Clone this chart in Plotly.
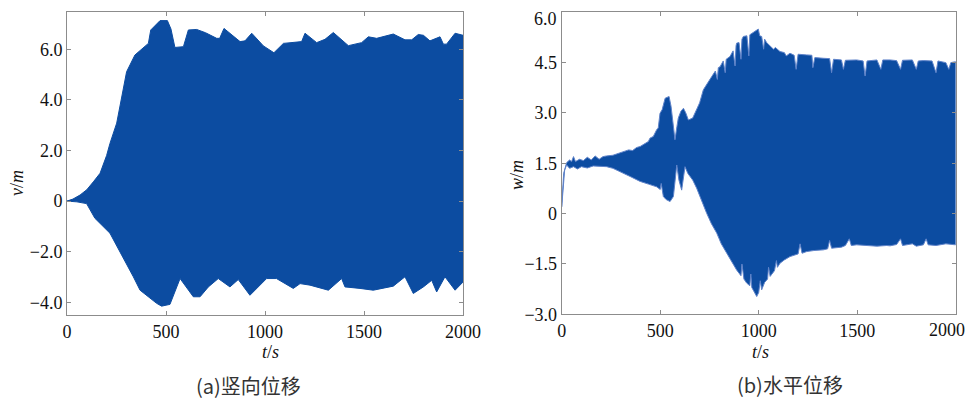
import plotly.graph_objects as go

# ---- (a) vertical displacement envelope ----
a_up_t = [0, 30, 66, 100, 133, 167, 200, 217, 251, 301, 343, 411, 423, 470, 507, 525, 545, 588, 613, 655,
          700, 756, 771, 793, 874, 899, 933, 992, 1045, 1093, 1185, 1202, 1261, 1303, 1345, 1421, 1488,
          1522, 1564, 1648, 1707, 1741, 1774, 1800, 1833, 1867, 1884, 1901, 1917, 1960, 2000]
a_up_v = [0.0, 0.08, 0.24, 0.45, 0.76, 1.1, 1.8, 2.28, 3.08, 5.11, 5.77, 6.23, 6.76, 7.13, 7.13, 6.8, 6.07,
          6.1, 6.76, 6.78, 6.65, 6.43, 6.43, 6.82, 6.3, 6.33, 6.63, 6.13, 5.86, 6.23, 6.3, 6.63, 6.26,
          6.39, 6.66, 6.14, 6.26, 6.49, 6.43, 6.6, 6.37, 6.37, 6.58, 6.55, 6.33, 6.43, 6.49, 6.2, 6.2,
          6.63, 6.55]
a_lo_t = [0, 50, 99, 141, 217, 335, 369, 453, 478, 520, 571, 638, 672, 714, 764, 823, 865, 924, 1008,
          1058, 1143, 1177, 1227, 1320, 1387, 1404, 1480, 1547, 1648, 1707, 1749, 1800, 1842, 1867, 1909,
          1960, 2000]
a_lo_v = [0.0, -0.03, -0.1, -0.68, -1.27, -2.99, -3.52, -4.04, -4.15, -4.08, -3.06, -3.78, -3.78, -3.39,
          -3.06, -3.39, -3.1, -3.72, -3.06, -3.06, -3.45, -3.26, -3.32, -3.52, -3.06, -3.39, -3.45, -3.52,
          -3.36, -2.99, -3.65, -3.39, -3.13, -3.59, -2.99, -3.52, -3.2]

# ---- (b) horizontal displacement envelope ----
b_up_t = [0, 10, 25, 40, 50, 60, 70, 90, 110, 130, 150, 170, 190, 210, 228, 260, 290, 313, 340, 360, 380,
          398, 420, 440, 448, 465, 482, 490, 499, 510, 525, 545, 555, 568, 575, 585, 592, 605, 618, 630,
          643, 665, 685, 700, 719, 740, 761, 780, 790, 795, 804, 820, 830, 835, 854, 870, 880, 885, 888,
          900, 910, 915, 922, 940, 950, 955, 975, 990, 998, 1005, 1015, 1025, 1030, 1040, 1058, 1075,
          1085, 1108, 1130, 1140, 1159, 1180, 1190, 1200, 1244, 1270, 1275, 1285, 1328, 1360, 1370,
          1380, 1420, 1430, 1440, 1497, 1530, 1540, 1550, 1600, 1620, 1630, 1667, 1700, 1720, 1730,
          1780, 1800, 1810, 1836, 1880, 1900, 1910, 1950, 1965, 1975, 2000]
b_up_w = [0.2, 1.2, 1.52, 1.6, 1.55, 1.7, 1.55, 1.62, 1.58, 1.68, 1.6, 1.72, 1.62, 1.7, 1.72, 1.74, 1.8,
          1.85, 1.9, 1.88, 1.97, 2.0, 2.08, 2.15, 2.25, 2.3, 2.5, 2.55, 2.99, 3.1, 3.44, 3.49, 3.2, 2.5,
          2.2, 2.6, 2.85, 3.05, 3.14, 3.0, 2.79, 2.85, 3.09, 3.3, 3.69, 3.9, 4.08, 4.25, 4.0, 4.35, 4.38,
          4.55, 4.2, 4.6, 4.68, 4.85, 4.4, 5.0, 5.08, 5.1, 4.6, 5.2, 5.28, 5.3, 4.7, 5.33, 5.4, 5.45, 5.5,
          5.3, 5.28, 4.9, 5.2, 5.1, 4.98, 4.9, 4.95, 4.83, 4.8, 4.7, 4.78, 4.72, 4.3, 4.75, 4.73, 4.72,
          4.35, 4.65, 4.63, 4.62, 4.2, 4.6, 4.58, 4.3, 4.57, 4.58, 4.55, 4.1, 4.55, 4.58, 4.3, 4.58, 4.58,
          4.56, 4.3, 4.57, 4.58, 4.3, 4.55, 4.56, 4.55, 4.2, 4.55, 4.5, 4.3, 4.5, 4.53]
b_lo_t = [0, 15, 25, 40, 60, 80, 100, 130, 160, 200, 228, 260, 290, 313, 350, 398, 440, 482, 500, 505, 516,
          530, 550, 567, 576, 584, 595, 609, 620, 626, 640, 651, 665, 685, 710, 736, 760, 787, 810, 838,
          860, 888, 910, 915, 925, 939, 955, 960, 965, 973, 990, 1000, 1008, 1015, 1030, 1045, 1050,
          1058, 1080, 1090, 1095, 1108, 1130, 1159, 1200, 1210, 1220, 1244, 1280, 1328, 1350, 1360,
          1370, 1420, 1440, 1460, 1470, 1497, 1550, 1600, 1650, 1667, 1700, 1720, 1730, 1780, 1800,
          1836, 1850, 1860, 1900, 1950, 2000]
b_lo_w = [0.2, 1.3, 1.45, 1.35, 1.4, 1.33, 1.4, 1.36, 1.42, 1.4, 1.4, 1.35, 1.28, 1.2, 1.1, 0.96, 0.88,
          0.8, 0.72, 0.9, 0.51, 0.42, 0.36, 0.51, 1.0, 1.45, 1.0, 0.7, 1.1, 1.4, 1.2, 1.1, 1.0, 0.76, 0.4,
          0.01, -0.3, -0.58, -0.9, -1.18, -1.4, -1.68, -1.85, -1.5, -1.95, -2.07, -2.15, -1.8, -2.2, -2.27,
          -2.47, -2.35, -2.0, -2.27, -2.05, -1.95, -1.6, -1.87, -1.7, -1.4, -1.6, -1.48, -1.38, -1.28,
          -1.2, -0.9, -1.18, -1.13, -1.1, -1.08, -1.05, -0.8, -1.03, -1.0, -0.95, -0.75, -0.95, -0.93,
          -0.95, -0.97, -0.95, -0.96, -0.92, -0.75, -0.95, -0.9, -0.97, -0.93, -0.75, -0.93, -0.95, -0.9,
          -0.93]

x_ticks = [0, 500, 1000, 1500, 2000]
x_labels = ["0", "500", "1000", "1500", "2000"]
a_yticks = [-4, -2, 0, 2, 4, 6]
a_ylabels = ["\u22124.0", "\u22122.0", "0", "2.0", "4.0", "6.0"]
b_yticks = [-3, -1.5, 0, 1.5, 3, 4.5, 6]
b_ylabels = ["\u22123.0", "\u22121.5", "0", "1.5", "3.0", "4.5", "6.0"]

# page offset (default body margin) compensation: figure occupies page px 8..966 x 8..400
OFF = 8
W, H = 974 - 2 * OFF, 408 - 2 * OFF
def px(X):
    return (X - OFF) / W
def py(Y):
    return 1 - (Y - OFF) / H

FILL = "#0c4ca1"
SERIF = "Liberation Serif"
fig = go.Figure()
fig.add_trace(go.Scatter(x=a_up_t + a_lo_t[::-1], y=a_up_v + a_lo_v[::-1], fill="toself",
                         fillcolor=FILL, mode="lines", line=dict(color=FILL, width=1),
                         xaxis="x", yaxis="y", showlegend=False, hoverinfo="skip"))
fig.add_trace(go.Scatter(x=b_up_t + b_lo_t[::-1], y=b_up_w + b_lo_w[::-1], fill="toself",
                         fillcolor=FILL, mode="lines", line=dict(color="#5f83c9", width=1),
                         xaxis="x2", yaxis="y2", showlegend=False, hoverinfo="skip"))

tickfont = dict(family=SERIF, size=18, color="#111")
ax_common = dict(showgrid=False, zeroline=False, showline=True, linecolor="#8c8c8c", linewidth=1,
                 mirror="ticks", ticks="inside", ticklen=4, tickcolor="#8c8c8c", tickfont=tickfont,
                 automargin=False, ticklabeloverflow="allow")

# edge labels that would fall outside the figure are drawn as annotations instead
b_xlabels = x_labels[:-1] + [""]
b_ylabels_ax = b_ylabels[:-1] + [""]

fig.update_layout(
    template="none",
    width=W, height=H, margin=dict(l=0, r=0, t=0, b=0, pad=0, autoexpand=False),
    paper_bgcolor="white", plot_bgcolor="white",
    font=dict(family=SERIF),
    xaxis=dict(domain=[px(67), px(463)], range=[0, 2000], tickvals=x_ticks, ticktext=x_labels,
               anchor="y", **ax_common),
    yaxis=dict(domain=[py(315), py(12)], range=[-4.5, 7.47], tickvals=a_yticks, ticktext=a_ylabels,
               anchor="x", **ax_common),
    xaxis2=dict(domain=[px(561.7), px(955.7)], range=[0, 2000], tickvals=x_ticks, ticktext=b_xlabels,
                anchor="y2", **ax_common),
    yaxis2=dict(domain=[py(314.3), py(12.3)], range=[-3, 6], tickvals=b_yticks, ticktext=b_ylabels_ax,
                anchor="x2", **ax_common),
)

def ann(text, x, y, size=18, angle=0, family=SERIF, color="#111", xanchor="center", yanchor="middle"):
    fig.add_annotation(text=text, x=px(x), y=py(y), xref="paper", yref="paper", showarrow=False,
                       textangle=angle, font=dict(family=family, size=size, color=color),
                       xanchor=xanchor, yanchor=yanchor, borderpad=0)

ann(x_labels[-1], 966, 330, xanchor="right", color="#111")
ann(b_ylabels[-1], 557.5, 8, xanchor="right", yanchor="top", color="#111")
ann("<i>t</i>/<i>s</i>", 270, 352)
ann("<i>t</i>/<i>s</i>", 760, 352)
ann("<i>v</i>/<i>m</i>", 17, 183, angle=-90)
ann("<i>w</i>/<i>m</i>", 517, 175, angle=-90)
ann("(a)竖向位移", 248, 385, size=20, family="Noto Sans CJK SC", color="#333")
ann("(b)水平位移", 790, 384, size=20, family="Noto Sans CJK SC", color="#333")

fig.write_html("out.html")
